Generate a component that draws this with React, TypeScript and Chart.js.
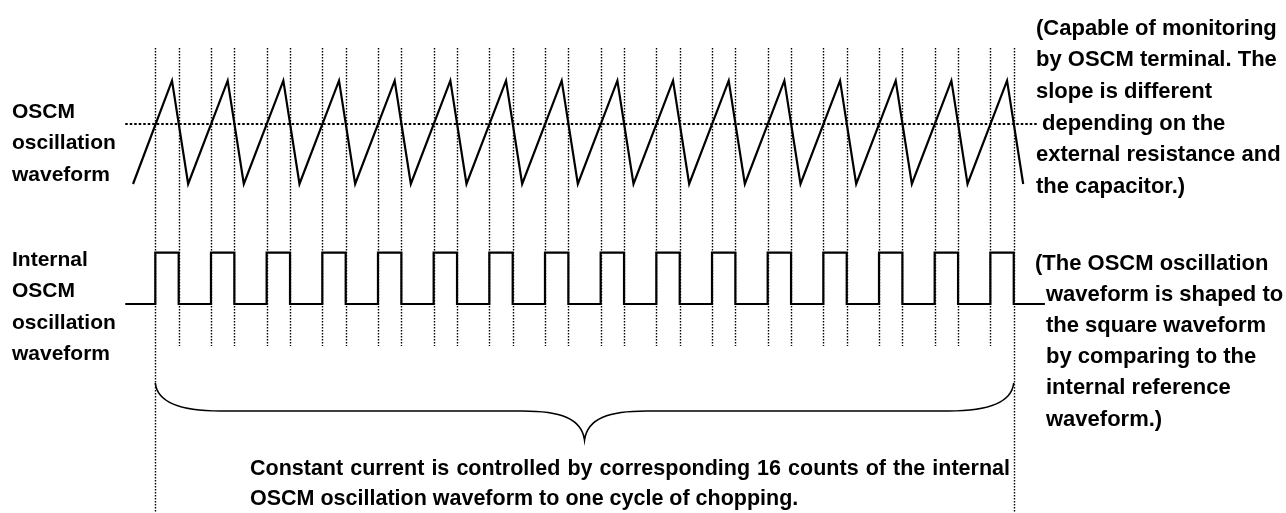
import { useEffect, useRef } from "react";
import { Chart, registerables } from "chart.js";

Chart.register(...registerables);

// Time axis: one unit = one OSCM oscillation count (period).
const triangleStart = -0.7;
const peakTimes = [0, 1, 2, 3, 4, 5, 6, 7, 8, 9, 10, 11, 12, 13, 14, 15];
const troughTimes = [0.29, 1.29, 2.29, 3.29, 4.29, 5.29, 6.29, 7.29, 8.29, 9.29, 10.29, 11.29, 12.29, 13.29, 14.29, 15.29];
const peakLevel = 1;
const troughLevel = 0;
const thresholdLevel = 0.58;
const thresholdSpan = [-0.84, 15.56];

const risingEdges = [-0.3, 0.7, 1.7, 2.7, 3.7, 4.7, 5.7, 6.7, 7.7, 8.7, 9.7, 10.7, 11.7, 12.7, 13.7, 14.7];
const fallingEdges = [0.12, 1.12, 2.12, 3.12, 4.12, 5.12, 6.12, 7.12, 8.12, 9.12, 10.12, 11.12, 12.12, 13.12, 14.12, 15.12];
const squareSpan = [-0.84, 15.68];
const squareLow = 0;
const squareHigh = 1;

const labelOsc = ["OSCM", "oscillation", "waveform"];
const labelSquare = ["Internal", "OSCM", "oscillation", "waveform"];
const noteOsc = [
  "(Capable of monitoring",
  "by OSCM terminal. The",
  "slope is different",
  "depending on the",
  "external resistance and",
  "the capacitor.)",
];
const noteSquare = [
  "(The OSCM oscillation",
  "waveform is shaped to",
  "the square waveform",
  "by comparing to the",
  "internal reference",
  "waveform.)",
];
const caption = [
  "Constant current is controlled by corresponding 16 counts of the internal",
  "OSCM oscillation waveform to one cycle of chopping.",
];

const W = 1286;
const H = 513;
const FAMILY = '"Liberation Sans", Arial, Helvetica, sans-serif';

// scale ranges chosen so that the hidden axes fill the whole canvas
const PX_PER_COUNT = 55.67;
const X_MIN = -172 / PX_PER_COUNT;
const X_MAX = X_MIN + W / PX_PER_COUNT;
const OSC_PX = 103.3;
const OSC_MAX = 1 + 80.7 / OSC_PX;
const OSC_MIN = OSC_MAX - H / OSC_PX;
const SQ_PX = 51.3;
const SQ_MAX = 1 + 252.7 / SQ_PX;
const SQ_MIN = SQ_MAX - H / SQ_PX;

const guidePlugin = {
  id: "guides",
  beforeDatasetsDraw(chart: any) {
    const ctx = chart.ctx;
    const xs = chart.scales.x;
    const edges = [...risingEdges, ...fallingEdges];
    ctx.save();
    ctx.strokeStyle = "#000";
    ctx.lineWidth = 1.4;
    ctx.setLineDash([1.5, 1.5]);
    edges.forEach((t) => {
      const px = Math.round(xs.getPixelForValue(t)) + 0.5;
      const long = t === risingEdges[0] || t === fallingEdges[fallingEdges.length - 1];
      ctx.beginPath();
      ctx.moveTo(px, 48);
      ctx.lineTo(px, long ? H : 346);
      ctx.stroke();
    });
    ctx.restore();
  },
};

const textPlugin = {
  id: "texts",
  afterDatasetsDraw(chart: any) {
    const ctx = chart.ctx;
    const xs = chart.scales.x;
    ctx.save();
    ctx.fillStyle = "#000";
    ctx.textBaseline = "alphabetic";
    ctx.textAlign = "left";

    ctx.font = "bold 21px " + FAMILY;
    labelOsc.forEach((s, i) => ctx.fillText(s, 12, 117.5 + i * 31.6));
    labelSquare.forEach((s, i) => ctx.fillText(s, 12, 265.6 + i * 31.6));

    ctx.font = "bold 22px " + FAMILY;
    noteOsc.forEach((s, i) => ctx.fillText(s, i === 3 ? 1042 : 1036, 34.7 + i * 31.6));
    noteSquare.forEach((s, i) => ctx.fillText(s, i === 0 ? 1035 : 1046, 269.5 + i * 31.2));

    // justified first caption line
    ctx.font = "bold 21.5px " + FAMILY;
    const words = caption[0].split(" ");
    const widths = words.map((w) => ctx.measureText(w).width);
    const total = widths.reduce((a, b) => a + b, 0);
    const left = 250;
    const right = 1010;
    const gap = (right - left - total) / (words.length - 1);
    let cx = left;
    words.forEach((w, i) => {
      ctx.fillText(w, cx, 475);
      cx += widths[i] + gap;
    });
    ctx.fillText(caption[1], left, 505);

    // brace spanning the 16 counts
    const xL = xs.getPixelForValue(risingEdges[0]);
    const xR = xs.getPixelForValue(fallingEdges[fallingEdges.length - 1]);
    const xM = (xL + xR) / 2;
    const yTop = 383;
    const yMid = 411;
    const yTip = 440;
    ctx.lineWidth = 1.6;
    ctx.setLineDash([]);
    ctx.beginPath();
    ctx.moveTo(xL, yTop);
    ctx.bezierCurveTo(xL + 2, yTop + 19, xL + 25, yMid, xL + 65, yMid);
    ctx.lineTo(xM - 62, yMid);
    ctx.bezierCurveTo(xM - 25, yMid, xM - 3, yMid + 7, xM, yTip);
    ctx.bezierCurveTo(xM + 3, yMid + 7, xM + 25, yMid, xM + 62, yMid);
    ctx.lineTo(xR - 65, yMid);
    ctx.bezierCurveTo(xR - 25, yMid, xR - 2, yTop + 19, xR, yTop);
    ctx.stroke();
    ctx.restore();
  },
};

export default function App() {
  const ref = useRef<HTMLCanvasElement | null>(null);

  useEffect(() => {
    if (!ref.current) return;

    const triangle: { x: number; y: number }[] = [{ x: triangleStart, y: troughLevel }];
    peakTimes.forEach((p, i) => {
      triangle.push({ x: p, y: peakLevel });
      triangle.push({ x: troughTimes[i], y: troughLevel });
    });

    const square: { x: number; y: number }[] = [{ x: squareSpan[0], y: squareLow }];
    risingEdges.forEach((r, i) => {
      square.push({ x: r, y: squareHigh });
      square.push({ x: fallingEdges[i], y: squareLow });
    });
    square.push({ x: squareSpan[1], y: squareLow });

    const threshold = thresholdSpan.map((x) => ({ x, y: thresholdLevel }));

    const chart = new Chart(ref.current, {
      type: "line",
      data: {
        datasets: [
          {
            label: "threshold",
            data: threshold,
            yAxisID: "yOsc",
            borderColor: "#000",
            borderWidth: 2,
            borderDash: [2.5, 2],
            pointRadius: 0,
          },
          {
            label: "OSCM oscillation waveform",
            data: triangle,
            yAxisID: "yOsc",
            borderColor: "#000",
            borderWidth: 2.2,
            pointRadius: 0,
            tension: 0,
          },
          {
            label: "Internal OSCM oscillation waveform",
            data: square,
            yAxisID: "ySq",
            borderColor: "#000",
            borderWidth: 2.2,
            pointRadius: 0,
            stepped: "before",
          },
        ],
      },
      options: {
        animation: false,
        responsive: true,
        maintainAspectRatio: false,
        layout: { padding: 0 },
        plugins: {
          legend: { display: false },
          tooltip: { enabled: false },
          title: { display: false },
        },
        events: [],
        scales: {
          x: { type: "linear", min: X_MIN, max: X_MAX, display: false },
          yOsc: { type: "linear", min: OSC_MIN, max: OSC_MAX, display: false },
          ySq: { type: "linear", min: SQ_MIN, max: SQ_MAX, display: false },
        },
      },
      plugins: [guidePlugin, textPlugin],
    });

    return () => chart.destroy();
  }, []);

  return (
    <div
      style={{
        position: "fixed",
        left: 0,
        top: 0,
        width: W,
        height: H,
        background: "#fff",
      }}
    >
      <canvas ref={ref} />
    </div>
  );
}
